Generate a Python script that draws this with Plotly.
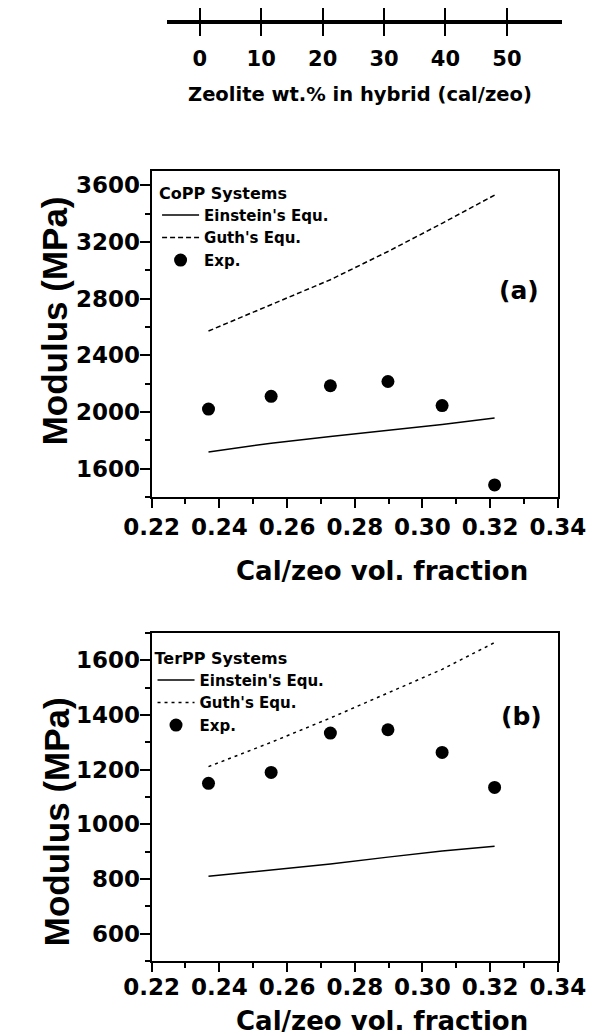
import plotly.graph_objects as go

# ---------------- data ----------------
vol_frac = [0.2368, 0.2553, 0.2728, 0.2898, 0.3058, 0.3213]
zeolite_wt = [0, 10, 20, 30, 40, 50]

copp_einstein = [1717, 1780, 1827, 1869, 1911, 1958]
copp_guth = [2571, 2758, 2933, 3132, 3331, 3530]
copp_exp = [2020, 2110, 2185, 2215, 2045, 1485]

terpp_einstein = [810, 834, 855, 880, 902, 920]
terpp_guth = [1211, 1300, 1389, 1481, 1567, 1665]
terpp_exp = [1150, 1190, 1334, 1346, 1263, 1135]

x_ticks = [0.22, 0.24, 0.26, 0.28, 0.30, 0.32, 0.34]
wt_ticks = [0, 10, 20, 30, 40, 50]

# ---------------- layout helpers ----------------
W, H = 615, 1036
def px(p):
    return p / W
def py(p):
    return 1 - p / H

FONT = "DejaVu Sans"
BLACK = "#000000"

fig = go.Figure()

# Panel (a) CoPP
fig.add_trace(go.Scatter(x=vol_frac, y=copp_einstein, mode="lines", name="Einstein's Equ.",
                         line=dict(color=BLACK, width=1.5), xaxis="x", yaxis="y",
                         legend="legend", legendgroup="a1"))
fig.add_trace(go.Scatter(x=vol_frac, y=copp_guth, mode="lines", name="Guth's Equ.",
                         line=dict(color=BLACK, width=1.5, dash="5px,3px"), xaxis="x", yaxis="y",
                         legend="legend", legendgroup="a2"))
fig.add_trace(go.Scatter(x=vol_frac, y=copp_exp, mode="markers", name="Exp.",
                         marker=dict(color=BLACK, size=13), xaxis="x", yaxis="y",
                         legend="legend", legendgroup="a3"))

# Panel (b) TerPP
fig.add_trace(go.Scatter(x=vol_frac, y=terpp_einstein, mode="lines", name="Einstein's Equ.",
                         line=dict(color=BLACK, width=1.5), xaxis="x2", yaxis="y2",
                         legend="legend2", legendgroup="b1"))
fig.add_trace(go.Scatter(x=vol_frac, y=terpp_guth, mode="lines", name="Guth's Equ.",
                         line=dict(color=BLACK, width=1.5, dash="3px,4px"), xaxis="x2", yaxis="y2",
                         legend="legend2", legendgroup="b2"))
fig.add_trace(go.Scatter(x=vol_frac, y=terpp_exp, mode="markers", name="Exp.",
                         marker=dict(color=BLACK, size=13), xaxis="x2", yaxis="y2",
                         legend="legend2", legendgroup="b3"))

# Top scale (zeolite wt.%) - invisible carrier trace
fig.add_trace(go.Scatter(x=zeolite_wt, y=[0] * len(zeolite_wt), mode="markers",
                         marker=dict(opacity=0), showlegend=False, hoverinfo="skip",
                         xaxis="x3", yaxis="y3"))

tickfont = dict(family=FONT, size=23, color=BLACK, weight="bold")

def xax(domain_anchor, standoff):
    return dict(domain=[px(136), px(583)], range=[0.22, 0.34], tickvals=x_ticks,
                ticktext=[f"{v:.2f}" for v in x_ticks], anchor=domain_anchor,
                showline=True, linewidth=2, linecolor=BLACK, mirror=True,
                ticks="outside", ticklen=9, tickwidth=2, tickcolor=BLACK,
                ticklabelstandoff=standoff,
                minor=dict(ticks="outside", ticklen=5, tickwidth=1.5, tickcolor=BLACK, dtick=0.01, tick0=0.22),
                showgrid=False, zeroline=False, tickfont=tickfont, fixedrange=True)

def yax(domain, rng, dtick, anchor):
    return dict(domain=domain, range=rng, dtick=dtick, tick0=0, anchor=anchor,
                showline=True, linewidth=2, linecolor=BLACK, mirror=True,
                ticks="outside", ticklen=10, tickwidth=2, tickcolor=BLACK,
                ticklabelstandoff=-5,
                minor=dict(ticks="outside", ticklen=5, tickwidth=1.5, tickcolor=BLACK, dtick=dtick / 2, tick0=0),
                showgrid=False, zeroline=False, tickfont=tickfont, fixedrange=True)

top_y = py(22)

legend_common = dict(xanchor="left", yanchor="top", bgcolor="rgba(0,0,0,0)",
                     font=dict(family=FONT, size=15, color=BLACK, weight="bold"),
                     tracegroupgap=0, itemwidth=37)

fig.update_layout(
    width=W, height=H,
    margin=dict(l=0, r=0, t=0, b=0),
    paper_bgcolor="white", plot_bgcolor="white",
    xaxis=xax("y", -1),
    yaxis=yax([py(497), py(171)], [1400, 3700], 400, "x"),
    xaxis2=xax("y2", -5),
    yaxis2=yax([py(961), py(633)], [500, 1700], 200, "x2"),
    xaxis3=dict(domain=[px(153), px(587)], range=[-5.33, 58.9], anchor="y3",
                tickvals=wt_ticks, showline=True, linewidth=1.5, linecolor=BLACK,
                mirror="ticks", ticks="outside", ticklen=12, tickwidth=1.5, tickcolor=BLACK,
                ticklabelstandoff=5,
                showgrid=False, zeroline=False, fixedrange=True,
                tickfont=dict(family=FONT, size=21, color=BLACK, weight="bold")),
    yaxis3=dict(domain=[top_y - 0.0003, top_y], range=[-1, 1], anchor="x3",
                visible=False, fixedrange=True),
    legend=dict(x=px(142), y=py(178),
                title=dict(text="CoPP Systems", font=dict(family=FONT, size=16, color=BLACK, weight="bold")),
                **legend_common),
    legend2=dict(x=px(137), y=py(643),
                 title=dict(text="TerPP Systems", font=dict(family=FONT, size=16, color=BLACK, weight="bold")),
                 **legend_common),
    showlegend=True,
)

ann_font = dict(family=FONT, color=BLACK, weight="bold")
annotations = [
    dict(text="Zeolite wt.% in hybrid (cal/zeo)", x=px(365), y=py(94),
         font=dict(size=19.5, **ann_font)),
    dict(text="Cal/zeo vol. fraction", x=px(390), y=py(571), font=dict(size=26, **ann_font)),
    dict(text="Cal/zeo vol. fraction", x=px(390), y=py(1021), font=dict(size=26, **ann_font)),
    dict(text="Modulus (MPa)", x=px(29), y=py(321), textangle=-90,
         font=dict(family="Liberation Sans", size=35, color=BLACK, weight="bold")),
    dict(text="Modulus (MPa)", x=px(31), y=py(822), textangle=-90,
         font=dict(family="Liberation Sans", size=35, color=BLACK, weight="bold")),
    dict(text="(a)", x=px(540), y=py(291), font=dict(size=25, **ann_font)),
    dict(text="(b)", x=px(543), y=py(716), font=dict(size=25, **ann_font)),
]
for a in annotations:
    a.update(xref="paper", yref="paper", showarrow=False, xanchor="center", yanchor="middle")
fig.update_layout(annotations=annotations)

fig.write_html("out.html")
